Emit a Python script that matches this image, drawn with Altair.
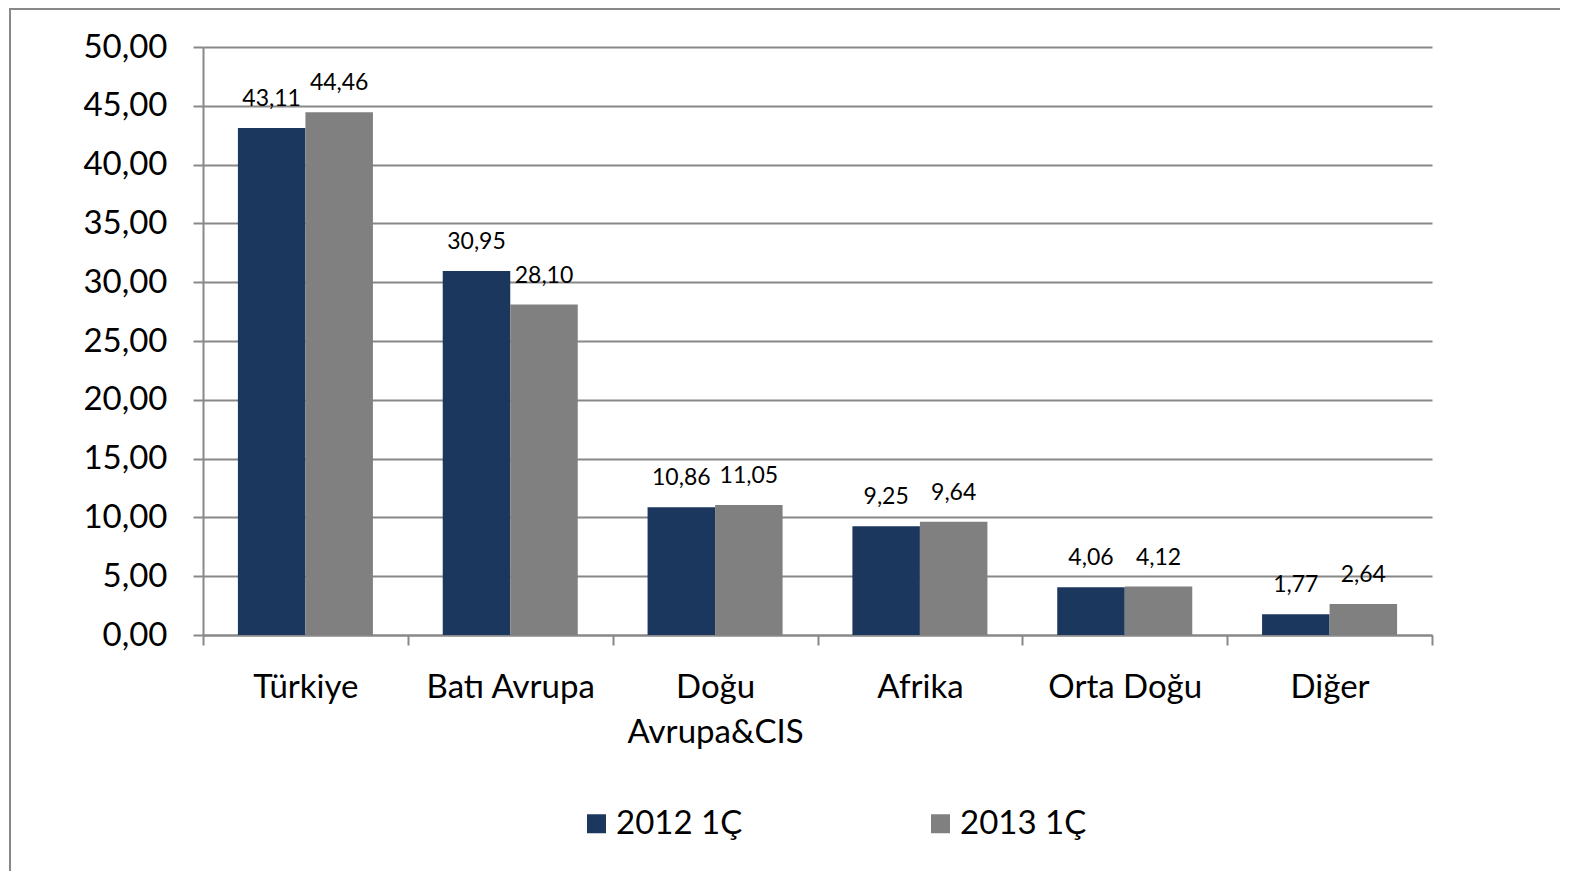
import altair as alt
import pandas as pd

categories = ["Türkiye", "Batı Avrupa", "Doğu Avrupa&CIS", "Afrika", "Orta Doğu", "Diğer"]
series = ["2012 1Ç", "2013 1Ç"]
values_2012 = [43.11, 30.95, 10.86, 9.25, 4.06, 1.77]
values_2013 = [44.46, 28.10, 11.05, 9.64, 4.12, 2.64]
colors = ["#1b375e", "#808080"]
y_ticks = [0, 5, 10, 15, 20, 25, 30, 35, 40, 45, 50]

rows = []
for c, a, b in zip(categories, values_2012, values_2013):
    rows.append({"category": c, "series": series[0], "value": a})
    rows.append({"category": c, "series": series[1], "value": b})
df = pd.DataFrame(rows)

FONT = "Lato"
GRID = "#888888"

x_enc = alt.X(
    "category:N",
    sort=categories,
    scale=alt.Scale(paddingInner=0, paddingOuter=0),
    axis=alt.Axis(
        title=None,
        labelAngle=0,
        labelFont=FONT,
        labelFontSize=33,
        labelColor="#000000",
        labelPadding=26,
        labelLineHeight=45,
        labelExpr="datum.label == 'Doğu Avrupa&CIS' ? ['Doğu', 'Avrupa&CIS'] : datum.label",
        tickBand="extent",
        tickSize=10,
        tickColor=GRID,
        tickWidth=2,
        domainColor=GRID,
        domainWidth=2,
        grid=False,
    ),
)
xoff_enc = alt.XOffset(
    "series:N", sort=series, scale=alt.Scale(paddingInner=0, paddingOuter=0.517)
)
y_scale = alt.Scale(domain=[0, 50], nice=False)
y_axis = alt.Axis(
    title=None,
    values=y_ticks,
    labelExpr="replace(format(datum.value, '.2f'), '.', ',')",
    labelFont=FONT,
    labelFontSize=33,
    labelColor="#000000",
    labelPadding=26,
    tickSize=10,
    tickColor=GRID,
    tickWidth=2,
    domainColor=GRID,
    domainWidth=2,
    grid=True,
    gridColor=GRID,
    gridWidth=2,
)

base = alt.Chart(df).encode(x=x_enc, xOffset=xoff_enc)

bars = base.mark_bar().encode(
    y=alt.Y("value:Q", scale=y_scale, axis=y_axis),
    color=alt.Color(
        "series:N",
        sort=series,
        scale=alt.Scale(domain=series, range=colors),
        legend=alt.Legend(
            title=None,
            orient="none",
            legendX=377,
            legendY=760,
            direction="horizontal",
            symbolType="square",
            symbolSize=361,
            symbolStrokeWidth=0,
            labelFont=FONT,
            labelFontSize=33,
            labelColor="#000000",
            labelOffset=3,
            columnPadding=181,
        ),
    ),
)

labels = base.transform_calculate(
    label="replace(format(datum.value, '.2f'), '.', ',')"
).mark_text(
    baseline="alphabetic", dy=-22, font=FONT, fontSize=23, color="#000000"
).encode(
    y=alt.Y("value:Q", scale=y_scale),
    text="label:N",
)

frame = alt.Chart(pd.DataFrame({"f": [0]})).mark_rect(
    fill="transparent", stroke=GRID, strokeWidth=2
).encode(
    x=alt.value(-193), x2=alt.value(1500), y=alt.value(-38), y2=alt.value(1000)
)

chart = alt.layer(frame, bars, labels).properties(
    width=1229,
    height=588,
    autosize=alt.AutoSizeParams(type="none"),
    padding={"left": 195, "top": 39, "right": 128, "bottom": 236},
    background="white",
).configure_view(strokeWidth=0)

chart.save("out.html", embed_options={"renderer": "svg", "actions": False})
